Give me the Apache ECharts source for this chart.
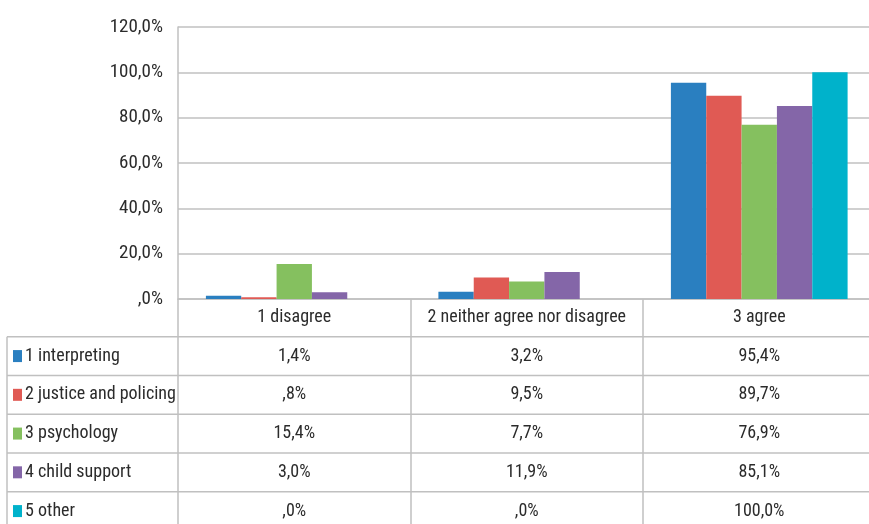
<!DOCTYPE html>
<html>
<head>
<meta charset="utf-8">
<script src="https://cdn.jsdelivr.net/npm/echarts@6/dist/echarts.min.js"></script>
<style>html,body{margin:0;padding:0;background:#fff}#c{width:869px;height:524px}</style>
</head>
<body>
<div id="c"></div>
<script>
const categories = ['1 disagree', '2 neither agree nor disagree', '3 agree'];
const seriesNames = ['1 interpreting', '2 justice and policing', '3 psychology', '4 child support', '5 other'];
const interpreting = [1.4, 3.2, 95.4];
const justice = [0.8, 9.5, 89.7];
const psychology = [15.4, 7.7, 76.9];
const childSupport = [3.0, 11.9, 85.1];
const other = [0.0, 0.0, 100.0];
const yTicks = [0, 20, 40, 60, 80, 100, 120];
const colors = ['#2a7fc0', '#e05a54', '#85c05f', '#8466a8', '#00b2cb'];

const values = [interpreting, justice, psychology, childSupport, other];
const FONT = '"Roboto Condensed", "DejaVu Sans Condensed", sans-serif';
const FS = 18;
const TXT = '#2b2b2b';
const LINE = '#c0c0c0';
function fmt(v) {
  return v.toFixed(1).replace('.', ',').replace(/^0,/, ',') + '%';
}

const gridLeft = 178, gridTop = 27, gridW = 697.5, gridH = 272;
const catW = gridW / categories.length;
const headerBottom = 336.7, rowH = 38.75, tableLeft = 7;

const graphics = [];
graphics.push({type: 'line', shape: {x1: tableLeft, y1: headerBottom, x2: tableLeft, y2: 524}, style: {stroke: LINE, lineWidth: 1.5}, silent: true});
for (let r = 0; r < seriesNames.length; r++) {
  const top = headerBottom + r * rowH;
  graphics.push({type: 'line', shape: {x1: tableLeft, y1: top, x2: 869, y2: top}, style: {stroke: LINE, lineWidth: 1.5}, silent: true});
  const cy = top + rowH / 2;
  graphics.push({type: 'rect', shape: {x: 13, y: cy - 6, width: 9, height: 12}, style: {fill: colors[r]}, silent: true});
  graphics.push({type: 'text', x: 25, y: cy, style: {text: seriesNames[r], font: FS + 'px ' + FONT, fill: TXT, textAlign: 'left', textVerticalAlign: 'middle'}, silent: true});
  for (let c = 0; c < categories.length; c++) {
    graphics.push({type: 'text', x: gridLeft + catW * (c + 0.5), y: cy, style: {text: fmt(values[r][c]), font: FS + 'px ' + FONT, fill: TXT, textAlign: 'center', textVerticalAlign: 'middle'}, silent: true});
  }
}

const chart = echarts.init(document.getElementById('c'), null, {renderer: 'canvas'});
chart.setOption({
  backgroundColor: '#ffffff',
  animation: false,
  grid: {left: gridLeft, top: gridTop, width: gridW, height: gridH, outerBoundsMode: 'none', containLabel: false},
  xAxis: {
    type: 'category',
    data: categories,
    axisLine: {show: true, lineStyle: {color: LINE, width: 1.5}},
    axisTick: {show: true, interval: 0, length: 240, lineStyle: {color: LINE, width: 1.5}},
    axisLabel: {interval: 0, hideOverlap: false, margin: 9, fontSize: FS, fontFamily: FONT, color: TXT}
  },
  yAxis: {
    type: 'value',
    min: yTicks[0],
    max: yTicks[yTicks.length - 1],
    interval: yTicks[1] - yTicks[0],
    axisLine: {show: true, lineStyle: {color: LINE, width: 1.5}},
    axisTick: {show: false},
    splitLine: {show: true, lineStyle: {color: LINE, width: 1.5}},
    axisLabel: {margin: 15, fontSize: 19, fontFamily: FONT, color: TXT, formatter: v => fmt(v)}
  },
  series: seriesNames.map((n, i) => ({
    name: n,
    type: 'bar',
    data: values[i],
    barGap: '0%',
    barCategoryGap: '24%',
    itemStyle: {color: colors[i]}
  })),
  graphic: graphics
});
</script>
</body>
</html>
